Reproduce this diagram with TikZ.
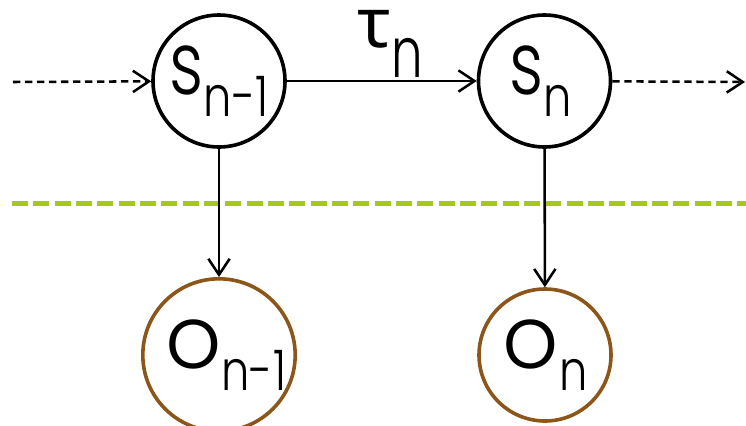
\documentclass[tikz,border=0pt]{standalone}
\usepackage{fontspec}
\setmainfont{Poppins Light}
\newfontfamily\greekfont{Noto Sans}
\usetikzlibrary{arrows.meta}
\definecolor{obsbrown}{RGB}{140,85,25}
\definecolor{sepgreen}{RGB}{164,200,28}
\newcommand{\bigtxt}[2][1]{\scalebox{#1}[1]{\fontsize{66}{66}\selectfont #2}}
\newcommand{\subtxt}[1]{\raisebox{-17pt}{\scalebox{0.8}[1]{\fontsize{42}{42}\selectfont #1}}}
\begin{document}
\begin{tikzpicture}[x=0.75pt,y=-0.75pt,
  state/.style={circle,draw=black,line width=2.7pt,minimum size=99pt,inner sep=0pt},
  obs/.style={state,draw=obsbrown},
  arr/.style={line width=1.9pt,-{Straight Barb[length=12pt,width=16pt,line width=1.9pt]}},
  dasharr/.style={arr,dash pattern=on 5.5pt off 3.5pt},
  sep/.style={sepgreen,line width=3.75pt,dash pattern=on 12pt off 4pt}]
\useasboundingbox (0,0) rectangle (746,425);
% separator
\coordinate (gl) at (12,203);
\coordinate (gr) at (746,203);
\draw[sep] (gl) -- (gr);
% nodes
\node[state] (s1) at (219,81) {\bigtxt[0.76]{s}\subtxt{n-1}};
\node[state] (s2) at (544.5,81) {\bigtxt[0.76]{s}\subtxt{n}\hspace*{6pt}};
\node[obs] (o1) at (219,355) {\hspace*{10pt}\bigtxt{o}\subtxt{n-1}};
\node[obs] (o2) at (545,355) {\bigtxt{o}\subtxt{n}};
\node[anchor=base west,inner sep=0pt] (tau) at (357,47) {{\greekfont\fontsize{52}{52}\selectfont τ}\raisebox{-22.5pt}{\scalebox{0.85}[1.2]{\fontsize{44}{44}\selectfont n}}};
% free ends
\coordinate (inl) at (13,82);
\coordinate (outr) at (745,82);
% connectors
\draw[dasharr] (inl) -- (s1);
\draw[arr] (s1) -- (s2);
\draw[dasharr] (s2) -- (outr);
\draw[arr] (s1) -- (o1);
\draw[arr] (s2) -- (o2);
\end{tikzpicture}
\end{document}
